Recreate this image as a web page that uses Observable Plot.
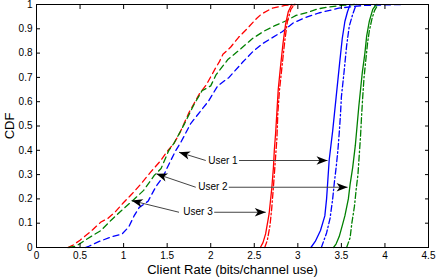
<!DOCTYPE html>
<html><head><meta charset="utf-8">
<script src="https://cdn.jsdelivr.net/npm/d3@7"></script>
<script src="https://cdn.jsdelivr.net/npm/@observablehq/plot@0.6"></script>
<style>body{margin:0;background:#fff}</style>
</head><body><div id="chart"></div>
<script>
// ---- data ----
const xTicks = [0, 0.5, 1, 1.5, 2, 2.5, 3, 3.5, 4, 4.5];
const xTickLabels = ["0", "0.5", "1", "1.5", "2", "2.5", "3", "3.5", "4", "4.5"];
const yTicks = [0, 0.1, 0.2, 0.3, 0.4, 0.5, 0.6, 0.7, 0.8, 0.9, 1];
const yTickLabels = ["0", "0.1", "0.2", "0.3", "0.4", "0.5", "0.6", "0.7", "0.8", "0.9", "1"];
const xLabel = "Client Rate (bits/channel use)";
const yLabel = "CDF";

// dashed curves
const dashedRed = [[0.36,0],[0.42,0.01],[0.5,0.03],[0.62,0.065],[0.74,0.105],[0.82,0.12],[0.9,0.145],[1.0,0.185],[1.1,0.222],[1.2,0.262],[1.31,0.31],[1.42,0.355],[1.5,0.395],[1.58,0.43],[1.65,0.475],[1.75,0.555],[1.87,0.632],[1.95,0.67],[2.05,0.735],[2.1,0.765],[2.14,0.795],[2.23,0.825],[2.32,0.865],[2.43,0.905],[2.52,0.94],[2.58,0.96],[2.7,0.984],[2.85,0.996],[2.97,1]];
const dashedGreen = [[0.37,0],[0.45,0.005],[0.58,0.035],[0.74,0.07],[0.85,0.11],[0.97,0.15],[1.08,0.185],[1.23,0.235],[1.35,0.296],[1.43,0.325],[1.52,0.4],[1.58,0.43],[1.7,0.51],[1.81,0.59],[1.9,0.645],[2.0,0.665],[2.06,0.71],[2.2,0.775],[2.32,0.81],[2.48,0.86],[2.61,0.89],[2.73,0.912],[2.86,0.932],[2.98,0.955],[3.11,0.967],[3.23,0.982],[3.36,0.99],[3.5,0.996],[3.65,1]];
const dashedBlue = [[0.56,0],[0.6,0.005],[0.72,0.025],[0.87,0.045],[0.98,0.055],[1.06,0.085],[1.12,0.13],[1.18,0.165],[1.28,0.19],[1.37,0.25],[1.45,0.29],[1.53,0.35],[1.6,0.4],[1.66,0.435],[1.77,0.51],[1.88,0.56],[1.97,0.6],[2.08,0.665],[2.21,0.7],[2.36,0.76],[2.48,0.805],[2.6,0.84],[2.7,0.862],[2.82,0.888],[2.95,0.925],[3.1,0.948],[3.24,0.965],[3.47,0.985],[3.75,0.996],[4.2,1]];
// solid curves
const solidRed = [[2.57,0],[2.6,0.02],[2.63,0.056],[2.67,0.138],[2.7,0.24],[2.72,0.33],[2.73,0.4],[2.745,0.47],[2.76,0.56],[2.775,0.65],[2.8,0.74],[2.83,0.84],[2.86,0.92],[2.89,0.97],[2.93,1]];
const solidBlue = [[3.15,0],[3.2,0.025],[3.26,0.07],[3.31,0.13],[3.33,0.2],[3.345,0.28],[3.36,0.36],[3.38,0.42],[3.4,0.48],[3.42,0.55],[3.44,0.62],[3.46,0.69],[3.48,0.76],[3.51,0.86],[3.54,0.93],[3.57,0.97],[3.6,1]];
const solidGreen = [[3.41,0],[3.44,0.015],[3.475,0.045],[3.51,0.09],[3.54,0.13],[3.58,0.2],[3.6,0.26],[3.63,0.33],[3.66,0.42],[3.68,0.5],[3.7,0.58],[3.72,0.65],[3.74,0.72],[3.77,0.8],[3.79,0.87],[3.82,0.93],[3.86,0.98],[3.9,1]];
// dash-dot curves
const dashDotRed = [[2.62,0],[2.65,0.03],[2.68,0.09],[2.7,0.16],[2.72,0.25],[2.74,0.35],[2.76,0.45],[2.77,0.55],[2.79,0.65],[2.82,0.75],[2.85,0.85],[2.88,0.93],[2.92,0.98],[2.96,1]];
const dashDotBlue = [[3.27,0],[3.3,0.03],[3.33,0.06],[3.37,0.12],[3.4,0.2],[3.42,0.27],[3.44,0.33],[3.46,0.4],[3.475,0.47],[3.49,0.55],[3.5,0.62],[3.53,0.72],[3.56,0.83],[3.59,0.91],[3.63,0.96],[3.67,1]];
const dashDotGreen = [[3.56,0],[3.6,0.04],[3.62,0.1],[3.65,0.17],[3.67,0.24],[3.69,0.3],[3.705,0.38],[3.72,0.46],[3.73,0.53],[3.745,0.62],[3.76,0.7],[3.78,0.77],[3.8,0.84],[3.82,0.89],[3.85,0.94],[3.88,0.975],[3.92,1]];

// annotations
const noteText = ["User 1", "User 2", "User 3"];
const noteX = [2.14, 2.025, 1.854];
const noteY = [0.358, 0.248, 0.145];
const leftArrowFrom = [[1.943,0.358],[1.828,0.248],[1.636,0.145]];
const leftArrowTo = [[1.636,0.392],[1.376,0.303],[1.092,0.193]];
const rightArrowFrom = [[2.325,0.358],[2.207,0.248],[2.04,0.145]];
const rightArrowTo = [[3.341,0.358],[3.571,0.248],[2.632,0.145]];

// ---- build tables ----
const RED = "#ff0000", GREEN = "#008000", BLUE = "#0000ff";
function rows(pts, color, name) { return pts.map(([x, y]) => ({x, y, color, name})); }
const dashedRows = [...rows(dashedRed, RED, "dr"), ...rows(dashedGreen, GREEN, "dg"), ...rows(dashedBlue, BLUE, "db")];
const solidRows = [...rows(solidRed, RED, "sr"), ...rows(solidBlue, BLUE, "sb"), ...rows(solidGreen, GREEN, "sg")];
const dashDotRows = [...rows(dashDotRed, RED, "ar"), ...rows(dashDotBlue, BLUE, "ab"), ...rows(dashDotGreen, GREEN, "ag")];
const notes = noteText.map((t, i) => ({t, x: noteX[i], y: noteY[i]}));
const arrows = [
  ...leftArrowFrom.map((f, i) => ({x1: f[0], y1: f[1], x2: leftArrowTo[i][0], y2: leftArrowTo[i][1]})),
  ...rightArrowFrom.map((f, i) => ({x1: f[0], y1: f[1], x2: rightArrowTo[i][0], y2: rightArrowTo[i][1]}))
];

const headMarker = (color, context) => {
  const m = d3.create("svg:marker")
    .attr("viewBox", "-11 -4.5 11 9")
    .attr("markerWidth", 11)
    .attr("markerHeight", 9)
    .attr("markerUnits", "userSpaceOnUse")
    .attr("orient", "auto")
    .attr("refX", 0).attr("refY", 0)
    .attr("overflow", "visible");
  m.append("path").attr("d", "M0,0L-11,-4.2L-8,0L-11,4.2Z").attr("fill", "black").attr("stroke", "none");
  return m.node();
};

const FONT = "'Liberation Sans', Arial, Helvetica, sans-serif";
const sw = 1.3;

const chart = Plot.plot({
  width: 436, height: 278,
  marginLeft: 36, marginRight: 8, marginTop: 4, marginBottom: 31,
  style: {fontFamily: FONT, fontSize: "10px", background: "white", color: "black"},
  x: {domain: [0, 4.5], axis: null},
  y: {domain: [0, 1], axis: null},
  color: {type: "identity"},
  marks: [
    Plot.line(dashedRows, {x: "x", y: "y", z: "name", stroke: "color", strokeWidth: sw, strokeDasharray: "6,4"}),
    Plot.line(solidRows, {x: "x", y: "y", z: "name", stroke: "color", strokeWidth: sw}),
    Plot.line(dashDotRows, {x: "x", y: "y", z: "name", stroke: "color", strokeWidth: sw, strokeDasharray: "6,2.5,1.5,2.5"}),
    Plot.link(arrows, {x1: "x1", y1: "y1", x2: "x2", y2: "y2", stroke: "#444", strokeWidth: 1, markerEnd: headMarker}),
    Plot.text(notes, {x: "x", y: "y", text: "t", fontSize: 10, fill: "black"}),
    Plot.frame({stroke: "black", strokeWidth: 1}),
    Plot.axisX(xTicks, {anchor: "bottom", tickSize: -4, tickPadding: 8, tickFormat: d => xTickLabels[xTicks.indexOf(d)], label: null, fontSize: 10}),
    Plot.axisX(xTicks, {anchor: "top", tickSize: -4, tickFormat: () => "", label: null}),
    Plot.axisY(yTicks, {anchor: "left", tickSize: -4, tickPadding: 8, tickFormat: d => yTickLabels[yTicks.indexOf(d)], label: null, fontSize: 10}),
    Plot.axisY(yTicks, {anchor: "right", tickSize: -4, tickFormat: () => "", label: null}),
    Plot.text([xLabel], {frameAnchor: "bottom", lineAnchor: "middle", textAnchor: "middle", dy: 22, text: d => d, fontSize: 13, fill: "black"}),
    Plot.text([yLabel], {frameAnchor: "left", lineAnchor: "middle", textAnchor: "middle", dx: -27, rotate: -90, text: d => d, fontSize: 13, fill: "black"})
  ]
});
document.getElementById("chart").appendChild(chart);
</script></body></html>
